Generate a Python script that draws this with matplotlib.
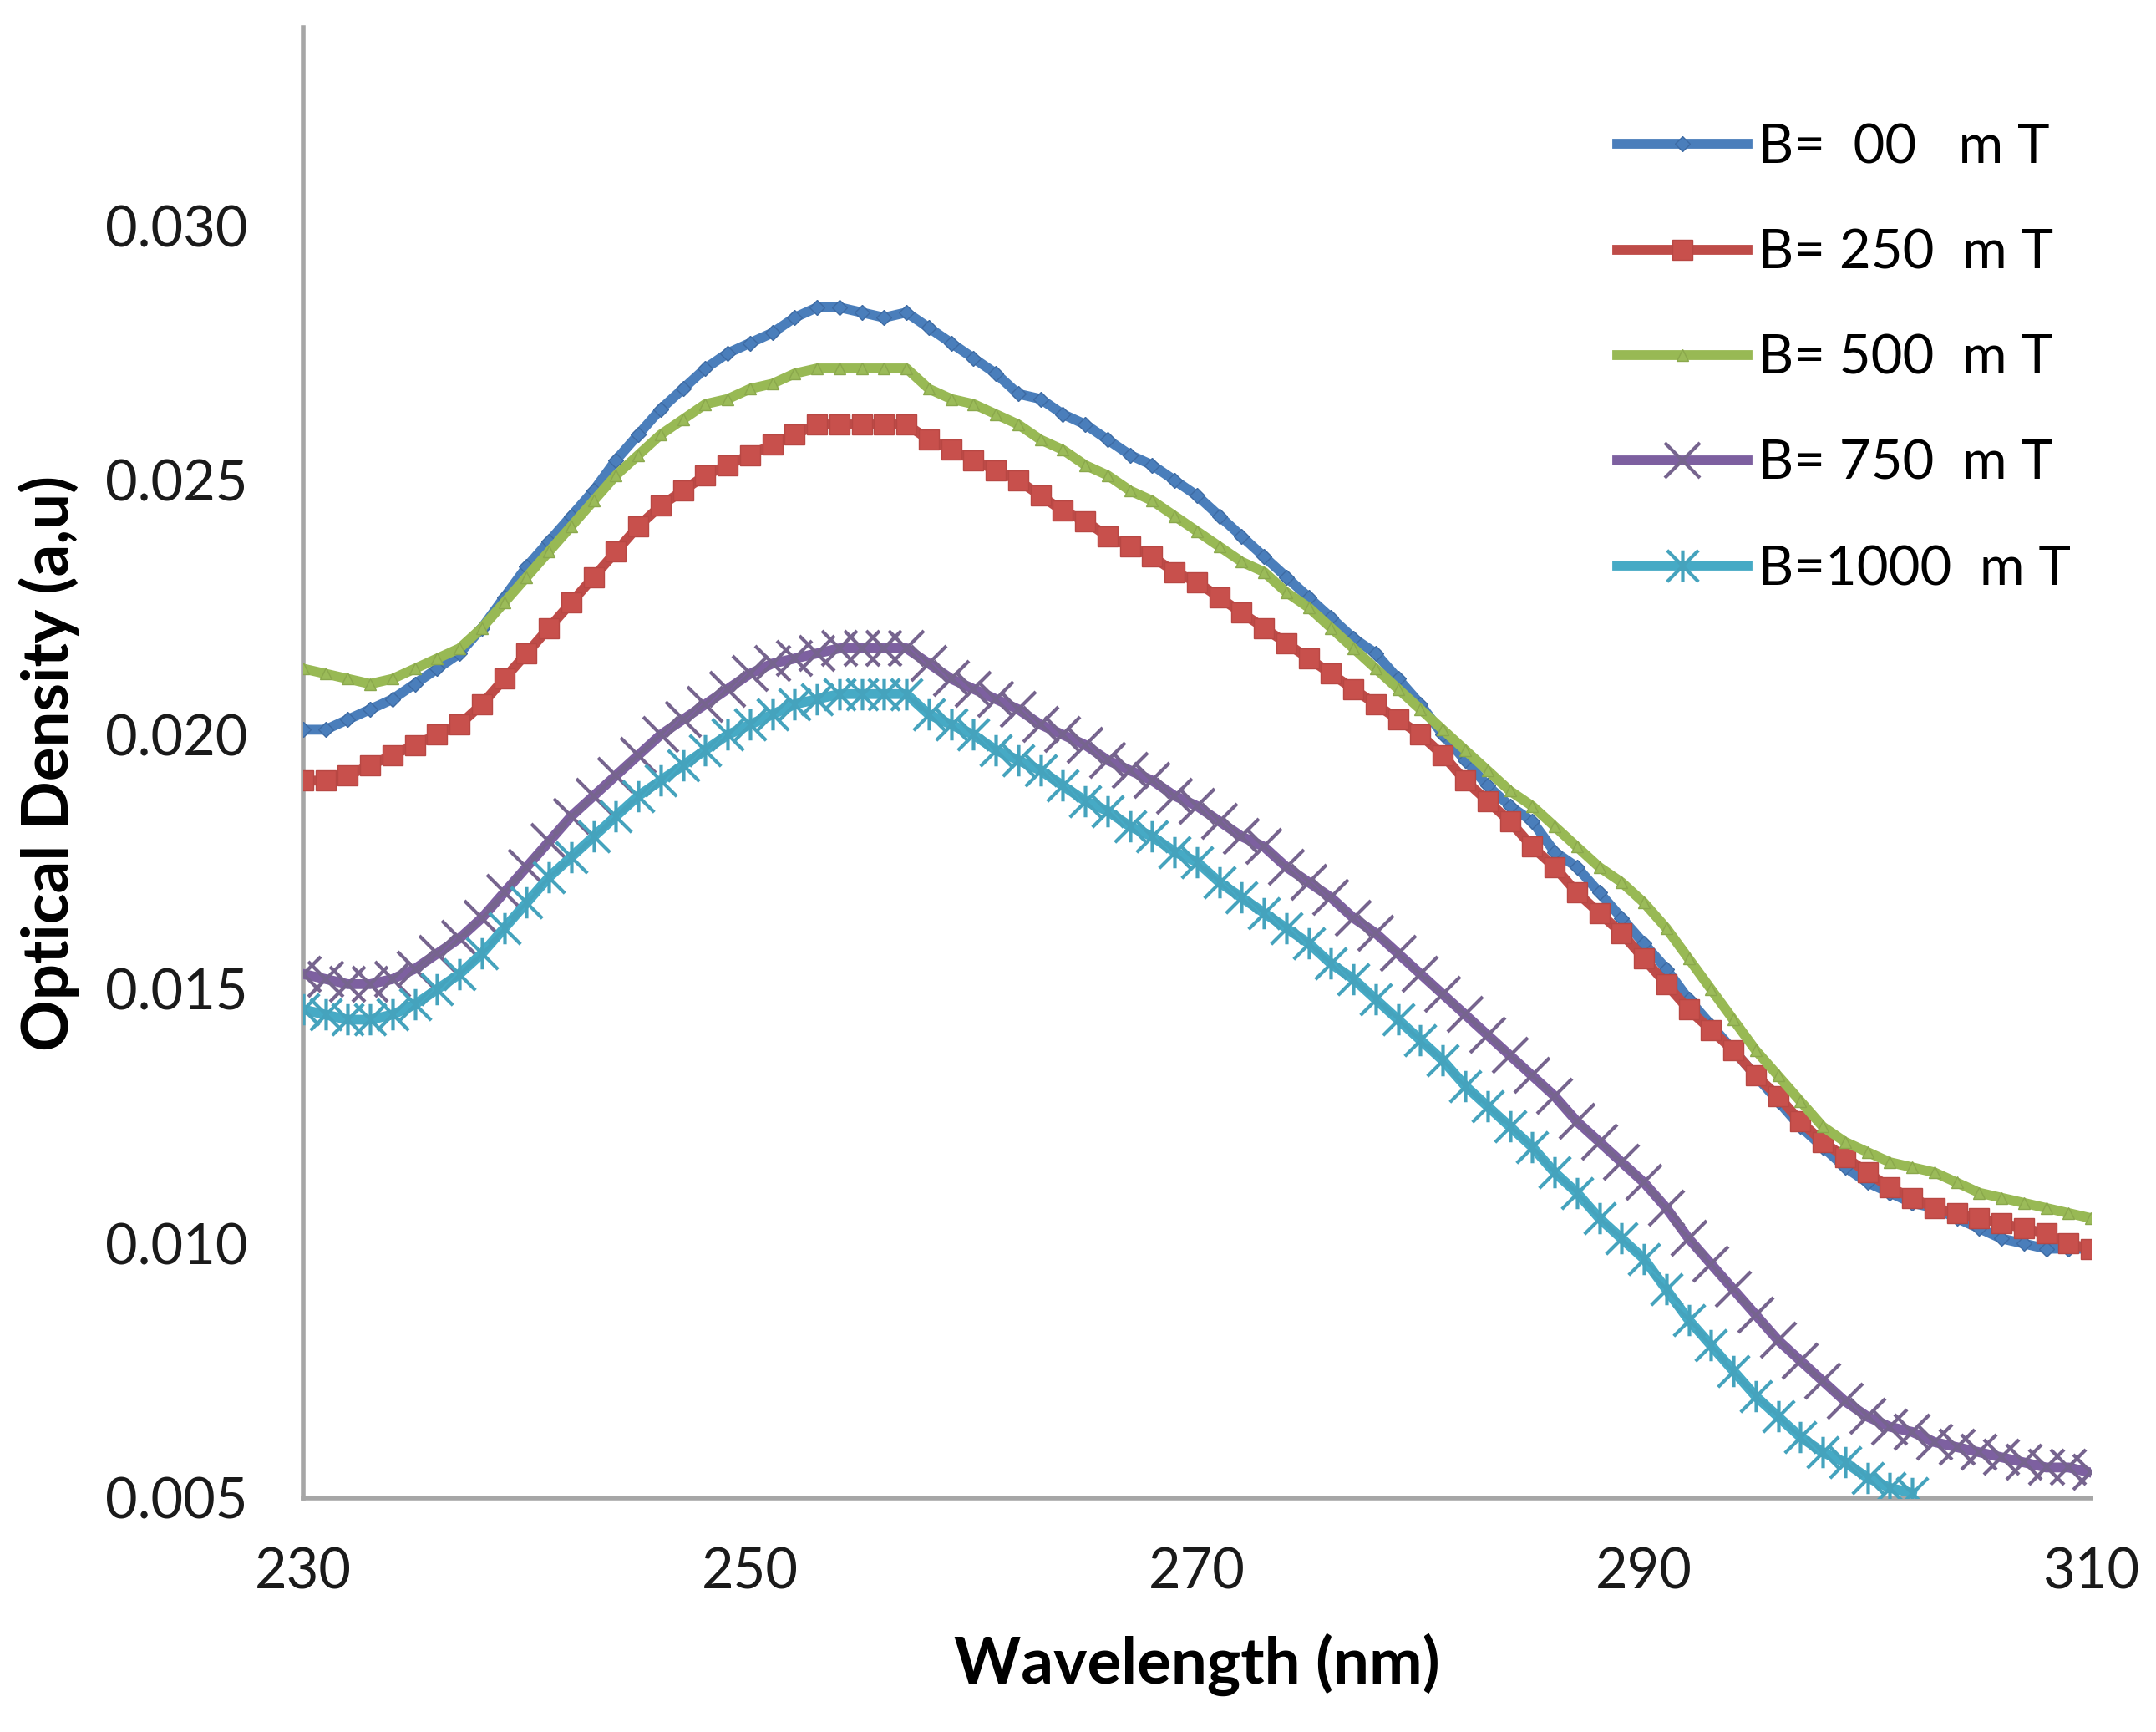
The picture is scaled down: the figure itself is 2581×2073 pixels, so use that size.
import matplotlib
matplotlib.use("Agg")
import matplotlib.pyplot as plt
from matplotlib.path import Path
import numpy as np

plt.rcParams['font.family'] = ['Lato', 'DejaVu Sans']

wavelength = list(range(230, 311))
wavelength_1000 = list(range(230, 303))

b_000 = [0.0201, 0.0201, 0.0203, 0.0205, 0.0207, 0.0210, 0.0213, 0.0216, 0.0221, 0.0227,
         0.0233, 0.0238, 0.0243, 0.0248, 0.0254, 0.0259, 0.0264, 0.0268, 0.0272, 0.0275,
         0.0277, 0.0279, 0.0282, 0.0284, 0.0284, 0.0283, 0.0282, 0.0283, 0.0280, 0.0277,
         0.0274, 0.0271, 0.0267, 0.0266, 0.0263, 0.0261, 0.0258, 0.0255, 0.0253, 0.0250,
         0.0247, 0.0243, 0.0239, 0.0235, 0.0231, 0.0227, 0.0223, 0.0219, 0.0216, 0.0211,
         0.0206, 0.0200, 0.0195, 0.0190, 0.0186, 0.0183, 0.0177, 0.0174, 0.0169, 0.0164,
         0.0159, 0.0154, 0.0148, 0.0143, 0.0138, 0.0133, 0.0128, 0.0123, 0.0119, 0.0115,
         0.0112, 0.0110, 0.0108, 0.0107, 0.0105, 0.0103, 0.0101, 0.0100, 0.0099, 0.0099,
         0.0099]

b_250 = [0.0191, 0.0191, 0.0192, 0.0194, 0.0196, 0.0198, 0.0200, 0.0202, 0.0206, 0.0211,
         0.0216, 0.0221, 0.0226, 0.0231, 0.0236, 0.0241, 0.0245, 0.0248, 0.0251, 0.0253,
         0.0255, 0.0257, 0.0259, 0.0261, 0.0261, 0.0261, 0.0261, 0.0261, 0.0258, 0.0256,
         0.0254, 0.0252, 0.0250, 0.0247, 0.0244, 0.0242, 0.0239, 0.0237, 0.0235, 0.0232,
         0.0230, 0.0227, 0.0224, 0.0221, 0.0218, 0.0215, 0.0212, 0.0209, 0.0206, 0.0203,
         0.0200, 0.0196, 0.0191, 0.0187, 0.0183, 0.0178, 0.0174, 0.0169, 0.0165, 0.0161,
         0.0156, 0.0151, 0.0146, 0.0142, 0.0138, 0.0133, 0.0129, 0.0124, 0.0120, 0.0117,
         0.0114, 0.0111, 0.0109, 0.0107, 0.0106, 0.0105, 0.0104, 0.0103, 0.0102, 0.0100,
         0.0099]

b_500 = [0.0213, 0.0212, 0.0211, 0.0210, 0.0211, 0.0213, 0.0215, 0.0217, 0.0221, 0.0226,
         0.0231, 0.0236, 0.0241, 0.0246, 0.0251, 0.0255, 0.0259, 0.0262, 0.0265, 0.0266,
         0.0268, 0.0269, 0.0271, 0.0272, 0.0272, 0.0272, 0.0272, 0.0272, 0.0268, 0.0266,
         0.0265, 0.0263, 0.0261, 0.0258, 0.0256, 0.0253, 0.0251, 0.0248, 0.0246, 0.0243,
         0.0240, 0.0237, 0.0234, 0.0232, 0.0228, 0.0225, 0.0221, 0.0217, 0.0213, 0.0209,
         0.0205, 0.0201, 0.0197, 0.0193, 0.0189, 0.0186, 0.0182, 0.0178, 0.0174, 0.0171,
         0.0167, 0.0162, 0.0156, 0.0150, 0.0144, 0.0138, 0.0133, 0.0128, 0.0123, 0.0120,
         0.0118, 0.0116, 0.0115, 0.0114, 0.0112, 0.0110, 0.0109, 0.0108, 0.0107, 0.0106,
         0.0105]

b_750 = [0.0153, 0.0152, 0.0151, 0.0151, 0.0152, 0.0154, 0.0157, 0.0160, 0.0164, 0.0169,
         0.0174, 0.0179, 0.0184, 0.0188, 0.0192, 0.0196, 0.0200, 0.0203, 0.0206, 0.0209,
         0.0212, 0.0214, 0.0215, 0.0216, 0.0217, 0.0217, 0.0217, 0.0217, 0.0214, 0.0211,
         0.0209, 0.0207, 0.0205, 0.0202, 0.0200, 0.0198, 0.0195, 0.0193, 0.0191, 0.0188,
         0.0186, 0.0183, 0.0180, 0.0178, 0.0174, 0.0171, 0.0168, 0.0164, 0.0161, 0.0157,
         0.0153, 0.0149, 0.0145, 0.0141, 0.0137, 0.0133, 0.0129, 0.0124, 0.0120, 0.0116,
         0.0112, 0.0107, 0.0101, 0.0096, 0.0091, 0.0086, 0.0081, 0.0077, 0.0073, 0.0069,
         0.0066, 0.0064, 0.0063, 0.0061, 0.0060, 0.0059, 0.0058, 0.0057, 0.0056, 0.0056,
         0.0055]

b_1000 = [0.0146, 0.0145, 0.0144, 0.0144, 0.0145, 0.0147, 0.0150, 0.0153, 0.0157, 0.0162,
          0.0167, 0.0172, 0.0176, 0.0180, 0.0184, 0.0188, 0.0191, 0.0194, 0.0197, 0.0200,
          0.0202, 0.0204, 0.0206, 0.0207, 0.0208, 0.0208, 0.0208, 0.0208, 0.0204, 0.0202,
          0.0200, 0.0197, 0.0195, 0.0193, 0.0190, 0.0187, 0.0185, 0.0182, 0.0180, 0.0177,
          0.0175, 0.0171, 0.0168, 0.0165, 0.0162, 0.0159, 0.0155, 0.0152, 0.0148, 0.0144,
          0.0140, 0.0136, 0.0131, 0.0127, 0.0123, 0.0119, 0.0114, 0.0110, 0.0105, 0.0101,
          0.0097, 0.0091, 0.0085, 0.0080, 0.0075, 0.0070, 0.0066, 0.0062, 0.0059, 0.0057,
          0.0054, 0.0052, 0.0051]

labels = ["B=  00   m T", "B= 250  m T", "B= 500  m T", "B= 750  m T", "B=1000  m T"]
x_ticks = [230, 250, 270, 290, 310]
y_ticks = [0.005, 0.010, 0.015, 0.020, 0.025, 0.030]

# Excel-style star marker: X plus a vertical bar
star = Path([(0, -0.5), (0, 0.5), (-0.5, -0.5), (0.5, 0.5), (-0.5, 0.5), (0.5, -0.5)],
            [Path.MOVETO, Path.LINETO, Path.MOVETO, Path.LINETO, Path.MOVETO, Path.LINETO])

fig = plt.figure(figsize=(25.81, 20.73), dpi=100)
ax = fig.add_axes([0.1406, 0.1351, 0.8292, 0.849])

LW = 8.5
ax.plot(wavelength, b_000, color='#4A7EBB', lw=LW, marker='D', ms=9,
        mfc='#4A7EBB', mec='#3d6aa3', mew=1, label=labels[0], zorder=3)
ax.plot(wavelength, b_250, color='#BE4B48', lw=LW, marker='s', ms=17,
        mfc='#C8504C', mec='#B84743', mew=1, label=labels[1], zorder=4)
ax.plot(wavelength, b_500, color='#98B954', lw=LW, marker='^', ms=10,
        mfc='#9BBB59', mec='#8aa84c', mew=1, label=labels[2], zorder=5)
ax.plot(wavelength, b_750, color='#7D60A0', lw=LW, marker='x', ms=30, mew=3,
        mec='#76648e', label=labels[3], zorder=6)
ax.plot(wavelength_1000, b_1000, color='#46AAC5', lw=LW, marker=star, ms=27, mew=3,
        mec='#45a3bd', label=labels[4], zorder=7)

ax.set_xlim(230, 310)
ax.set_ylim(0.005, 0.0339)
ax.set_xticks(x_ticks)
ax.set_xticklabels([str(v) for v in x_ticks])
ax.set_yticks(y_ticks)
ax.set_yticklabels([f"{v:.3f}" for v in y_ticks])
ax.tick_params(length=0, labelsize=48, colors='#1a1a1a')
ax.tick_params(axis='y', pad=48)
ax.tick_params(axis='x', pad=42)

for s in ['top', 'right']:
    ax.spines[s].set_visible(False)
for s in ['left', 'bottom']:
    ax.spines[s].set_color('#a6a6a6')
    ax.spines[s].set_linewidth(4)

ax.set_xlabel('Wavelength (nm)', fontsize=55, fontweight='bold', labelpad=30)
ax.set_ylabel('Optical Density (a,u)', fontsize=55, fontweight='bold', labelpad=22)

leg = ax.legend(loc='upper left', bbox_to_anchor=(0.750, 0.929), bbox_transform=fig.transFigure,
                frameon=False, fontsize=47, handlelength=2.4, handletextpad=0.2,
                labelspacing=1.03, borderpad=0, borderaxespad=0)

fig.savefig('out.png', dpi=100, facecolor='white')
